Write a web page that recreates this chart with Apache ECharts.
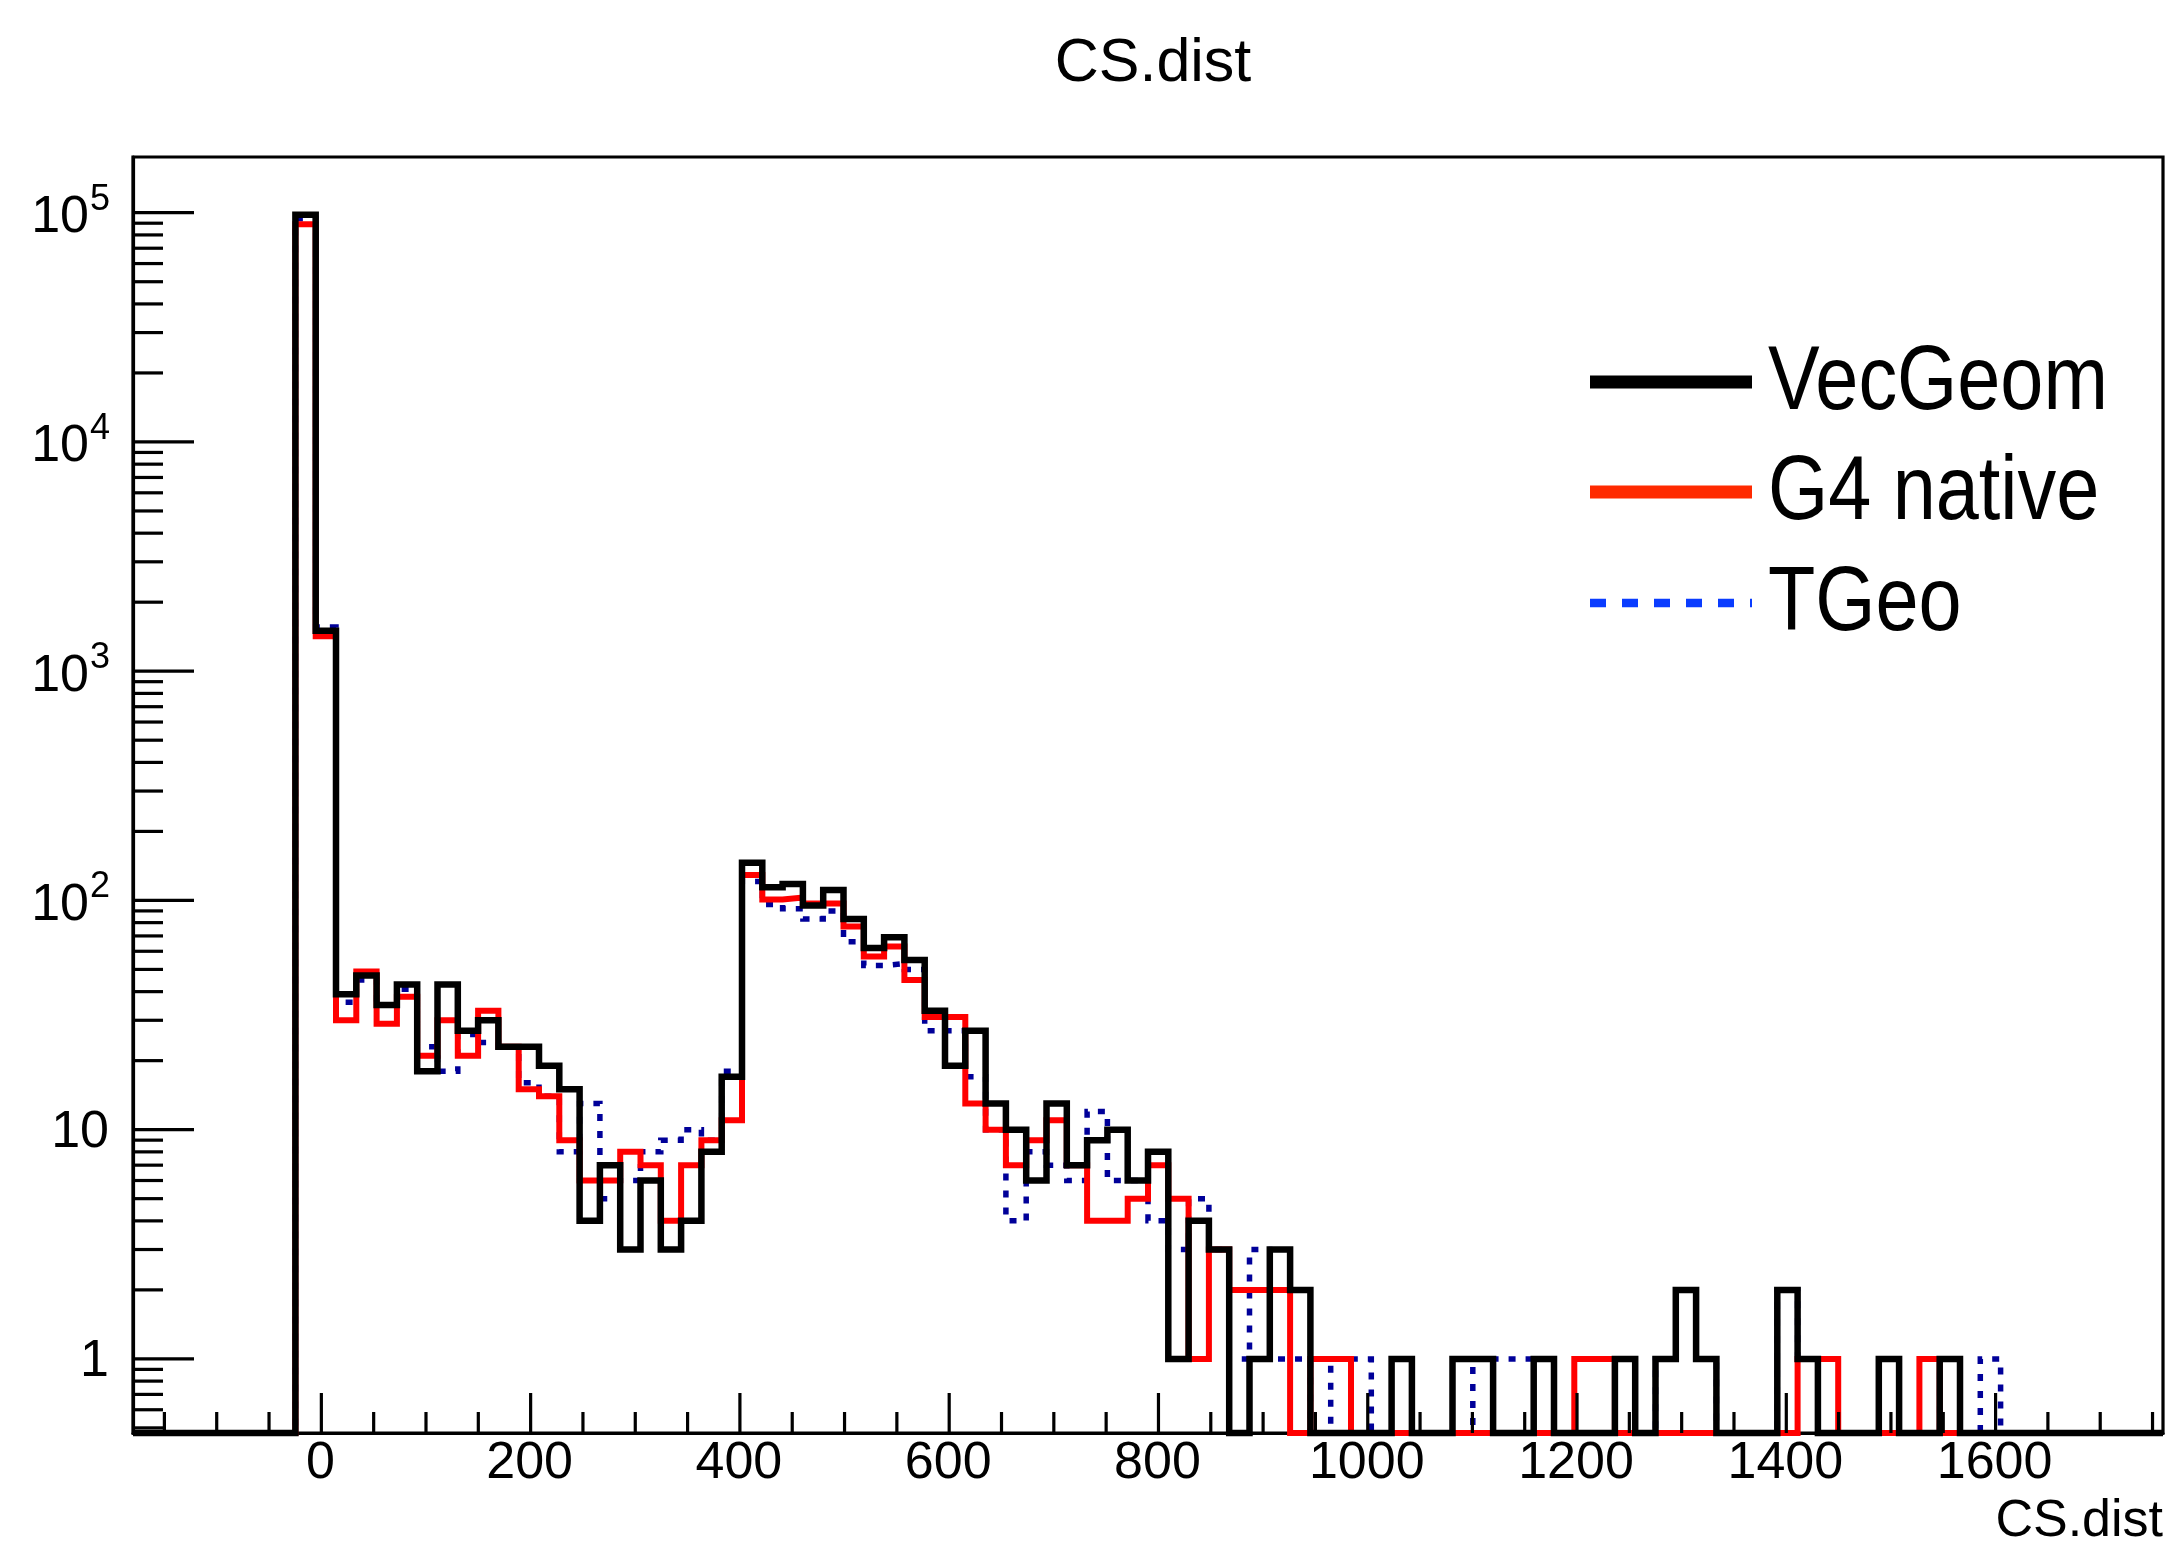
<!DOCTYPE html>
<html><head><meta charset="utf-8">
<script src="https://cdn.jsdelivr.net/npm/echarts@6/dist/echarts.min.js"></script>
<style>html,body{margin:0;padding:0;background:#fff}#c{width:2172px;height:1548px}</style>
</head><body><div id="c"></div>
<script>
// ---- data ----
const chartTitle = 'CS.dist';
const xAxisTitle = 'CS.dist';
const seriesNames = ['VecGeom', 'G4 native', 'TGeo'];
const binStart = -180;      // lower edge of first bin
const binWidth = 19.4;      // 100 bins up to 1760
const xMin = -180, xMax = 1760;
const yMin = 0.475, yMax = 175000;

const vecGeom = [0,0,0,0,0,0,0,0,98000,1500,
  39,47,35,43,18,43,27,30,23,23,
  19,15,4,7,3,6,3,4,8,17,
  146,114,118,95,111,83,62,69,55,33,
  19,27,13,10,6,13,7,9,10,6,
  8,1,4,3,0,1,3,2,0,0,
  0,0,1,0,0,1,1,0,0,1,
  0,0,0,1,0,1,2,1,0,0,
  0,2,1,0,0,0,1,0,0,1,
  0,0,0,0,0,0,0,0,0,0];
const g4native = [0,0,0,0,0,0,0,0,89000,1420,
  30,49,29,38,21,30,21,33,23,15,
  14,9,6,6,8,7,4,7,9,11,
  129,101,103,97,97,77,57,63,45,31,
  31,13,10,7,9,11,7,4,4,5,
  7,5,1,3,2,2,2,0,1,1,
  0,0,0,0,0,0,0,0,0,0,
  0,1,1,0,0,0,0,0,0,0,
  0,0,1,1,0,0,0,0,1,0,
  0,0,0,0,0,0,0,0,0,0];
const tgeo = [0,0,0,0,0,0,0,0,94000,1560,
  36,45,35,41,23,18,26,24,23,16,
  14,8,13,5,6,8,9,10,9,18,
  121,96,92,83,90,66,52,53,50,27,
  27,17,10,4,8,7,6,12,6,6,
  4,3,5,3,1,3,1,1,0,1,
  1,0,0,0,0,0,1,1,1,1,
  0,0,0,1,0,1,2,1,0,0,
  0,2,1,0,0,0,1,0,0,1,
  0,1,0,0,0,0,0,0,0,0];

const xMajorTicks = [0,200,400,600,800,1000,1200,1400,1600];
const xMinorTicks = [-150,-100,-50,50,100,150,250,300,350,450,500,550,650,700,750,850,900,950,
  1050,1100,1150,1250,1300,1350,1450,1500,1550,1650,1700,1750];
const yMajorTicks = [1,10,100,1000,10000,100000];
const yMinorTicks = [0.5,0.6,0.7,0.8,0.9,
  2,3,4,5,6,7,8,9, 20,30,40,50,60,70,80,90,
  200,300,400,500,600,700,800,900, 2000,3000,4000,5000,6000,7000,8000,9000,
  20000,30000,40000,50000,60000,70000,80000,90000];

// ---- build ----
const FONT = '"Liberation Sans", Arial, Helvetica, sans-serif';
function histData(vals) {
  const d = vals.map((v, k) => [binStart + k * binWidth, v > 0 ? v : yMin]);
  d.push([binStart + vals.length * binWidth, vals[vals.length - 1] > 0 ? vals[vals.length - 1] : yMin]);
  return d;
}
function histSeries(name, vals, color, width, dash, z) {
  return {
    name, type: 'line', data: histData(vals), step: 'end', symbol: 'none', showSymbol: false,
    clip: false, z, silent: true,
    lineStyle: { color, width, type: dash || 'solid', join: 'miter', cap: 'butt' }
  };
}
function tickSeries(values, axis, len) {
  return {
    type: 'custom', silent: true, clip: false, z: 6,
    data: values.map(v => axis === 'y' ? [xMin, v] : [v, yMin]),
    encode: { x: 0, y: 1 },
    renderItem: (params, api) => {
      const p = api.coord([api.value(0), api.value(1)]);
      const shape = axis === 'y'
        ? { x1: p[0], y1: p[1], x2: p[0] + len, y2: p[1] }
        : { x1: p[0], y1: p[1], x2: p[0], y2: p[1] - len };
      return { type: 'line', shape, style: { stroke: '#000', lineWidth: 3.2 } };
    }
  };
}
const yLabelSeries = {
  type: 'custom', silent: true, clip: false, z: 6,
  data: yMajorTicks.map(v => [xMin, v]), encode: { x: 0, y: 1 },
  renderItem: (params, api) => {
    const v = api.value(1);
    const p = api.coord([xMin, v]);
    const e = Math.round(Math.log10(v));
    if (e <= 1) {
      return { type: 'text', x: p[0] - 24, y: p[1] + 3,
        style: { text: String(v), font: '52px ' + FONT, fill: '#000', align: 'right', verticalAlign: 'middle' } };
    }
    return { type: 'group', children: [
      { type: 'text', x: p[0] - 44, y: p[1] + 5,
        style: { text: '10', font: '52px ' + FONT, fill: '#000', align: 'right', verticalAlign: 'middle' } },
      { type: 'text', x: p[0] - 43, y: p[1] - 13,
        style: { text: String(e), font: '36px ' + FONT, fill: '#000', align: 'left', verticalAlign: 'middle' } }
    ] };
  }
};
const xLabelSeries = {
  type: 'custom', silent: true, clip: false, z: 6,
  data: xMajorTicks.map(v => [v, yMin]), encode: { x: 0, y: 1 },
  renderItem: (params, api) => {
    const v = api.value(0);
    const p = api.coord([v, yMin]);
    return { type: 'text', x: p[0] - 1, y: p[1] + 31,
      style: { text: String(v), font: '52px ' + FONT, fill: '#000', align: 'center', verticalAlign: 'middle' } };
  }
};

const legendY = [382, 492, 603];
const legendLine = [
  { stroke: '#000000', lineWidth: 13 },
  { stroke: '#ff2a00', lineWidth: 13 },
  { stroke: '#0a3cff', lineWidth: 8.5, lineDash: [16, 16] }
];
const graphic = [
  { type: 'text', x: 1153, y: 64, style: { text: chartTitle, font: '61px ' + FONT, fill: '#000', align: 'center', verticalAlign: 'middle' } },
  { type: 'text', x: 2163, y: 1522, style: { text: xAxisTitle, font: '52px ' + FONT, fill: '#000', align: 'right', verticalAlign: 'middle' } }
];
seriesNames.forEach((n, i) => {
  graphic.push({ type: 'line', shape: { x1: 1590, y1: legendY[i], x2: 1752, y2: legendY[i] }, style: legendLine[i] });
  graphic.push({ type: 'text', x: 1768, y: legendY[i] + 2, scaleX: 0.86,
    style: { text: n, font: '90px ' + FONT, fill: '#000', align: 'left', verticalAlign: 'middle' } });
});

const chart = echarts.init(document.getElementById('c'), null, { renderer: 'canvas' });
chart.setOption({
  animation: false,
  backgroundColor: '#ffffff',
  grid: { left: 133, top: 157, width: 2030, height: 1276, show: true, borderColor: '#000', borderWidth: 3.2 },
  xAxis: { type: 'value', min: xMin, max: xMax,
    axisLine: { show: true, onZero: false, lineStyle: { color: '#000', width: 3.2 } },
    axisTick: { show: false }, axisLabel: { show: false }, splitLine: { show: false } },
  yAxis: { type: 'log', logBase: 10, min: yMin, max: yMax,
    axisLine: { show: true, onZero: false, lineStyle: { color: '#000', width: 3.2 } },
    axisTick: { show: false }, axisLabel: { show: false }, splitLine: { show: false } },
  series: [
    histSeries(seriesNames[2], tgeo, '#000099', 5.5, [7, 10], 2),
    histSeries(seriesNames[1], g4native, '#ff0000', 6, null, 3),
    histSeries(seriesNames[0], vecGeom, '#000000', 6.5, null, 4),
    tickSeries(yMajorTicks, 'y', 61),
    tickSeries(yMinorTicks, 'y', 30),
    tickSeries(xMajorTicks, 'x', 40),
    tickSeries(xMinorTicks, 'x', 21),
    yLabelSeries,
    xLabelSeries
  ],
  graphic
});
</script></body></html>
